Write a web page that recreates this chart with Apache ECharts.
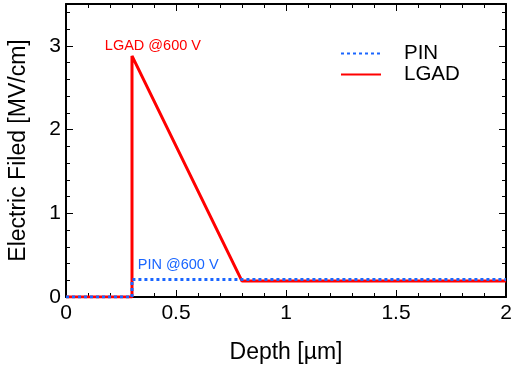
<!DOCTYPE html>
<html>
<head>
<meta charset="utf-8">
<script src="https://cdn.jsdelivr.net/npm/echarts@6/dist/echarts.min.js"></script>
<style>
  html, body { margin: 0; padding: 0; background: #fff; }
  #chart { width: 511px; height: 370px; }
</style>
</head>
<body>
<div id="chart"></div>
<script>
// 数据：深度 [µm] 与电场 [MV/cm]
const pinDepth = [0, 0.3, 0.3, 2.0];
const pinField = [0, 0, 0.21, 0.21];
const lgadDepth = [0, 0.3, 0.3, 0.8, 2.0];
const lgadField = [0, 0, 2.88, 0.19, 0.19];

// 注释文字及其锚点（数据坐标）
const annoText = ['LGAD @600 V', 'PIN @600 V'];
const annoDepth = [0.395, 0.51];
const annoField = [3.0, 0.38];

const RED = '#ff0000';
const BLUE = '#1a66ff';
const FONT = 'Liberation Sans';

const zip = (xs, ys) => xs.map((x, i) => [x, ys[i]]);
const fmtX = (v) => (v === 0.5 || v === 1.5 ? String(v) : String(Math.round(v)));
const fmtY = (v) => (v > 3 ? '' : String(v));

const chart = echarts.init(document.getElementById('chart'), null, { renderer: 'canvas' });

const tickCommon = {
  axisLine: { show: true, onZero: false, lineStyle: { color: '#000', width: 2 } },
  axisTick: { show: true, inside: true, length: 7, lineStyle: { color: '#000', width: 1 } },
  minorTick: { show: true, splitNumber: 5, length: 4, lineStyle: { color: '#000', width: 1 } },
  splitLine: { show: false },
};

chart.setOption({
  animation: false,
  textStyle: { fontFamily: FONT },
  grid: { left: 66, right: 5, top: 4, bottom: 73, outerBoundsMode: 'none', containLabel: false },
  legend: {
    orient: 'vertical',
    left: 335,
    top: 38,
    icon: 'inherit',
    itemWidth: 40,
    itemHeight: 12,
    itemGap: 0,
    itemStyle: { opacity: 0 },
    textStyle: { fontSize: 20.5, color: '#000', fontFamily: FONT, padding: [0, 0, 0, 18] },
    data: ['PIN', 'LGAD'],
  },
  xAxis: [
    {
      type: 'value', min: 0, max: 2, interval: 0.5,
      name: 'Depth [µm]', nameLocation: 'middle', nameGap: 44,
      nameTextStyle: { fontSize: 23, color: '#000', fontFamily: FONT },
      axisLabel: { fontSize: 21, color: '#000', margin: 6, formatter: fmtX, fontFamily: FONT },
      ...tickCommon,
    },
    {
      type: 'value', min: 0, max: 2, interval: 0.5, position: 'top',
      axisLabel: { show: false },
      ...tickCommon,
    },
  ],
  yAxis: [
    {
      type: 'value', min: 0, max: 3.5, interval: 1,
      name: 'Electric Filed [MV/cm]', nameLocation: 'middle', nameGap: 36,
      nameTextStyle: { fontSize: 23, color: '#000', fontFamily: FONT },
      axisLabel: { fontSize: 21, color: '#000', margin: 5, formatter: fmtY, fontFamily: FONT },
      ...tickCommon,
    },
    {
      type: 'value', min: 0, max: 3.5, interval: 1, position: 'right',
      axisLabel: { show: false },
      ...tickCommon,
    },
  ],
  series: [
    {
      name: 'LGAD',
      type: 'line',
      data: zip(lgadDepth, lgadField),
      showSymbol: false,
      symbol: 'none',
      lineStyle: { color: RED, width: 3, type: 'solid' },
      itemStyle: { color: RED },
      z: 2,
      markPoint: {
        symbol: 'circle', symbolSize: 0,
        label: { show: true, position: 'inside', color: RED, fontSize: 14.5, fontFamily: FONT, formatter: annoText[0] },
        data: [{ coord: [annoDepth[0], annoField[0]] }],
      },
    },
    {
      name: 'PIN',
      type: 'line',
      data: zip(pinDepth, pinField),
      showSymbol: false,
      symbol: 'none',
      lineStyle: { color: BLUE, width: 3, type: [3, 3] },
      itemStyle: { color: BLUE },
      z: 3,
      markPoint: {
        symbol: 'circle', symbolSize: 0,
        label: { show: true, position: 'inside', color: BLUE, fontSize: 14.5, fontFamily: FONT, formatter: annoText[1] },
        data: [{ coord: [annoDepth[1], annoField[1]] }],
      },
    },
  ],
});
</script>
</body>
</html>
